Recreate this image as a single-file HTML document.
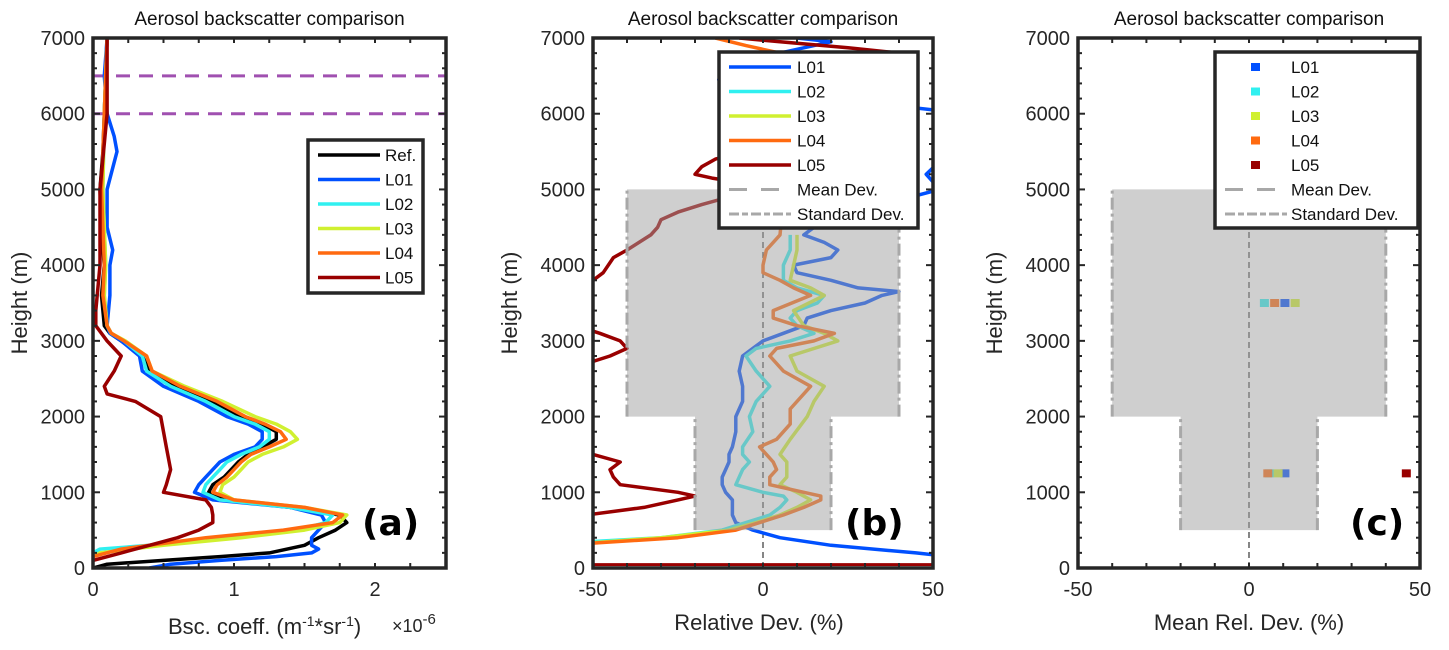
<!DOCTYPE html>
<html><head><meta charset="utf-8"><style>
body{margin:0;background:#fff}
svg{display:block;font-family:"Liberation Sans",sans-serif}
</style></head><body>
<svg id="s" width="1449" height="650" viewBox="0 0 1449 650">
<defs>
<clipPath id="ca"><rect x="93" y="38" width="353" height="530"/></clipPath>
<clipPath id="cb"><rect x="593" y="38" width="340" height="530"/></clipPath>
<clipPath id="cc"><rect x="1078" y="38" width="342" height="530"/></clipPath>
</defs>
</svg>
<script>
// ---- Panel (a) data: backscatter (x1e-6) vs height ----
const refH=[0,50,100,150,200,300,400,500,600,700,800,900,1000,1100,1200,1300,1400,1500,1600,1700,1800,1900,2000,2200,2400,2600,2800,3000,3100,3200,3400,3600,3800,4000,4200,4500,5000,5500,6000,6500,7000];
const refX=[0,0.1,0.5,0.9,1.25,1.5,1.6,1.72,1.8,1.75,1.4,0.95,0.82,0.85,0.93,0.98,1.03,1.1,1.2,1.3,1.3,1.2,1.05,0.85,0.6,0.4,0.35,0.2,0.12,0.08,0.07,0.06,0.07,0.08,0.07,0.06,0.05,0.07,0.08,0.09,0.1];
const l01H=[0,50,100,150,200,250,300,400,500,600,700,800,900,1000,1100,1200,1300,1400,1500,1600,1700,1800,1900,2000,2200,2400,2600,2800,3000,3100,3200,3600,4000,4200,4500,5000,5500,5700,6000,6500,7000];
const l01X=[0.4,0.55,0.9,1.3,1.55,1.6,1.55,1.55,1.6,1.65,1.62,1.4,0.85,0.72,0.75,0.8,0.85,0.9,1.0,1.15,1.2,1.2,1.1,0.95,0.75,0.5,0.35,0.33,0.2,0.12,0.1,0.12,0.12,0.14,0.1,0.1,0.17,0.15,0.1,0.08,0.1];
const l02H=[200,250,300,400,500,600,700,800,900,1000,1100,1200,1300,1400,1500,1600,1700,1800,1900,2000,2200,2400,2600,2800,3000,3100,3200,3600,4000,5000,6000,7000];
const l02X=[0,0.05,0.4,1.0,1.45,1.65,1.7,1.4,0.9,0.78,0.8,0.85,0.9,0.95,1.05,1.18,1.25,1.25,1.15,1.0,0.8,0.55,0.38,0.35,0.22,0.13,0.1,0.08,0.09,0.07,0.08,0.1];
const l03H=[150,200,300,400,500,600,700,800,900,1000,1100,1200,1300,1400,1500,1600,1700,1800,1900,2000,2200,2400,2600,2800,3000,3100,3200,3600,4000,5000,6000,7000];
const l03X=[0,0.05,0.5,1.05,1.5,1.75,1.8,1.5,1.0,0.9,0.92,1.0,1.05,1.1,1.2,1.35,1.45,1.4,1.3,1.15,0.92,0.65,0.42,0.38,0.23,0.13,0.1,0.08,0.09,0.07,0.08,0.1];
const l04H=[150,250,400,500,600,700,800,900,1000,1100,1200,1300,1400,1500,1600,1700,1800,1900,2000,2200,2400,2600,2800,3000,3100,3200,3600,4000,5000,6000,7000];
const l04X=[0,0.2,0.8,1.35,1.7,1.77,1.5,1.0,0.85,0.88,0.95,1.0,1.05,1.12,1.25,1.37,1.33,1.22,1.08,0.88,0.62,0.42,0.38,0.22,0.13,0.1,0.07,0.08,0.06,0.08,0.1];
const l05H=[100,200,300,400,500,600,700,800,900,1000,1100,1300,1600,1800,2000,2200,2300,2400,2600,2800,3000,3200,3400,4000,5000,6000,7000];
const l05X=[0,0.2,0.4,0.6,0.75,0.85,0.85,0.84,0.8,0.5,0.52,0.55,0.52,0.5,0.48,0.3,0.1,0.08,0.15,0.2,0.1,0.02,0.02,0.05,0.05,0.1,0.1];
const aTicksX=[0,1,2]; const aTickLabelsX=["0","1","2"];
const yTicks=[0,1000,2000,3000,4000,5000,6000,7000];
const overlapH=[6000,6500];
// ---- Panel (b) data: relative deviation (%) ----
const b01H=[150,200,300,400,500,600,700,800,900,1000,1100,1200,1300,1400,1500,1600,1800,2000,2200,2400,2600,2800,2900,3000,3100,3200,3300,3400,3500,3600,3650,3700,3800,3900,4000,4100,4200,4300,4400,4500,4800,5000,5200,5500,5700,6000,6200,6350,6450,6500,6550,6600,6800,6950,7000];
const b01X=[55,45,20,5,-3,-8,-9,-9,-9,-11,-12,-12,-11,-10,-10,-9,-8,-8,-6,-6,-7,-6,-3,0,6,12,13,20,30,35,40,28,20,10,9,20,22,18,12,15,35,52,48,55,52,60,20,-8,-13,-6,-12,-3,5,20,10];
const b02H=[250,350,400,500,600,700,800,900,950,1000,1100,1200,1300,1400,1500,1600,1800,2000,2200,2400,2600,2800,2900,3000,3100,3200,3300,3400,3500,3600,3700,3800,4000,4200,4400];
const b02X=[-60,-50,-30,-12,-5,2,5,7,6,0,-8,-7,-6,-4,-6,-6,-3,-4,-2,2,-2,-5,-2,8,15,10,8,10,16,18,10,6,6,8,8];
const b03H=[300,400,500,600,700,800,900,1000,1100,1200,1300,1400,1500,1700,2000,2200,2400,2600,2800,3000,3100,3200,3400,3600,3700,3800,4000,4200,4400];
const b03X=[-60,-30,-10,-2,5,10,14,10,5,7,7,7,5,8,13,15,18,10,8,22,18,12,9,18,14,8,9,10,10];
const b04H=[300,400,500,600,700,800,900,950,1000,1100,1200,1300,1400,1500,1600,1700,1900,2100,2400,2600,2800,2900,3000,3100,3200,3300,3400,3600,3700,3800,3900,4000,4200,4400,6700,6800,6900,7000];
const b04X=[-60,-25,-8,-1,6,12,17,17,12,2,2,4,3,1,-1,4,8,8,14,6,2,4,15,21,10,3,3,14,9,5,0,0,1,5,10,5,-5,-14];
const b05H=[700,800,900,950,1000,1100,1200,1300,1400,1500,1550,2700,2800,2900,3000,3100,3200,3700,3800,3900,4100,4200,4400,4500,4600,4700,4800,4900,5000,5100,5150,5200,5300,5400,5500,5600,6000,6800,6870,6950,7000];
const b05X=[-52,-35,-25,-20,-25,-42,-44,-45,-42,-50,-55,-52,-45,-40,-42,-48,-55,-55,-50,-47,-44,-40,-33,-31,-30,-25,-18,-10,-5,-8,-15,-20,-18,-14,-5,5,30,40,25,5,-7];
const bTicksX=[-50,0,50]; const bTickLabelsX=["-50","0","50"];
const sdUpperH=[2000,5000], sdUpper=40;
const sdLowerH=[500,2000], sdLower=20;
// ---- Panel (c) data: mean relative deviation (%) ----
const cLayers=[3500,1250];
const c01=[10.5,10.5], c02=[4.5,6], c03=[13.5,8.5], c04=[7.5,5.5], c05=[null,46];

const colors={ref:"#000000",l01:"#0050ff",l02:"#30f0f0",l03:"#d0f030",l04:"#ff6a10",l05:"#990000"};
const NS="http://www.w3.org/2000/svg";
const svg=document.getElementById('s');
function mk(tag,attrs,parent){const e=document.createElementNS(NS,tag);for(const k in attrs)e.setAttribute(k,attrs[k]);(parent||svg).appendChild(e);return e;}
const Y=h=>568-h*530/7000;
const XA=v=>93+v*141, XB=v=>763+v*3.40, XC=v=>1249+v*3.42;

function line(xs,hs,X,col,name,g){let d="";xs.forEach((v,i)=>{d+=(i?"L":"M")+X(v).toFixed(1)+","+Y(hs[i]).toFixed(1)});
 const p=mk('path',{d:d,fill:"none",stroke:col,"stroke-width":3.5,"stroke-linejoin":"round"},g);
 
 }

function axes(x0,x1,X,ticks,labels,minorStep,minorFrom,minorTo,name,ylabX,title){
 const g=mk('g',{});
 
 
 const col="#262626";
 for(let h=0;h<=7000;h+=200){const L=h%1000==0?7:4;
  mk('line',{x1:x0,x2:x0+L,y1:Y(h),y2:Y(h),stroke:col,"stroke-width":2},g);
  mk('line',{x1:x1,x2:x1-L,y1:Y(h),y2:Y(h),stroke:col,"stroke-width":2},g);}
 for(let v=minorFrom;v<=minorTo+1e-9;v+=minorStep){const px=X(v);
  mk('line',{x1:px,x2:px,y1:568,y2:563,stroke:col,"stroke-width":2},g);
  mk('line',{x1:px,x2:px,y1:38,y2:43,stroke:col,"stroke-width":2},g);}
 mk('rect',{x:x0,y:38,width:x1-x0,height:530,fill:"none",stroke:col,"stroke-width":3.5},g);
 yTicks.forEach(h=>{const t=mk('text',{x:x0-8,y:Y(h)+7,"text-anchor":"end","font-size":20,fill:col},g);t.textContent=h;
  
  });
 ticks.forEach((v,i)=>{const t=mk('text',{x:X(v),y:596,"text-anchor":"middle","font-size":20,fill:col},g);t.textContent=labels[i];
  
  });
 const yl=mk('text',{x:0,y:0,transform:`translate(${ylabX},303) rotate(-90)`,"text-anchor":"middle","font-size":22,fill:col},g);yl.textContent="Height (m)";
 
 
 const tt=mk('text',{x:(x0+x1)/2,y:25,"text-anchor":"middle","font-size":19,fill:"#111"},g);tt.textContent=title;
 
 
 return g;}

// ===== Panel a =====
const ga=mk('g',{"clip-path":"url(#ca)"});


overlapH.forEach(h=>{const l=mk('line',{x1:93,x2:446,y1:Y(h),y2:Y(h),stroke:"#a050b0","stroke-width":3,"stroke-dasharray":"14,9"},ga);
 
 });
line(refX,refH,XA,colors.ref,'ref-line',ga);
line(l01X,l01H,XA,colors.l01,'l01-line',ga);
line(l02X,l02H,XA,colors.l02,'l02-line',ga);
line(l03X,l03H,XA,colors.l03,'l03-line',ga);
line(l04X,l04H,XA,colors.l04,'l04-line',ga);
line(l05X,l05H,XA,colors.l05,'l05-line',ga);
axes(93,446,XA,aTicksX,aTickLabelsX,0.25,0,2.5,'panel-a',27,'Aerosol backscatter comparison');

// ===== Panel b =====
const gb=mk('g',{"clip-path":"url(#cb)"});


const zl=mk('line',{x1:XB(0),x2:XB(0),y1:Y(0),y2:Y(5000),stroke:"#444","stroke-width":1.3,"stroke-dasharray":"6,4"},gb);


const bl=mk('line',{x1:593,x2:933,y1:Y(45),y2:Y(45),stroke:colors.l05,"stroke-width":3},gb);


line(b01X,b01H,XB,colors.l01,'l01-dev-line',gb);
line(b02X,b02H,XB,colors.l02,'l02-dev-line',gb);
line(b03X,b03H,XB,colors.l03,'l03-dev-line',gb);
line(b04X,b04H,XB,colors.l04,'l04-dev-line',gb);
line(b05X,b05H,XB,colors.l05,'l05-dev-line',gb);

function sdBand(X,g){
 const p=`M${X(-sdUpper)},${Y(sdUpperH[1])}H${X(sdUpper)}V${Y(sdUpperH[0])}H${X(sdLower)}V${Y(sdLowerH[0])}H${X(-sdLower)}V${Y(sdLowerH[1])}H${X(-sdUpper)}Z`;
 const b=mk('path',{d:p,fill:"#a0a0a0","fill-opacity":0.5},g);
 
 
 [[-sdUpper,sdUpperH],[sdUpper,sdUpperH],[-sdLower,sdLowerH],[sdLower,sdLowerH]].forEach(([v,hh])=>{
  const e=mk('line',{x1:X(v),x2:X(v),y1:Y(hh[0]),y2:Y(hh[1]),stroke:"#a8a8a8","stroke-width":3,"stroke-dasharray":"12,4,3,4"},g);
  
  });}
sdBand(XB,gb);
axes(593,933,XB,bTicksX,bTickLabelsX,10,-50,50,'panel-b',517,'Aerosol backscatter comparison');

// ===== Panel c =====
const gc=mk('g',{"clip-path":"url(#cc)"});


const zl2=mk('line',{x1:XC(0),x2:XC(0),y1:Y(0),y2:Y(5000),stroke:"#444","stroke-width":1.3,"stroke-dasharray":"6,4"},gc);


[[c01,colors.l01,'l01'],[c02,colors.l02,'l02'],[c03,colors.l03,'l03'],[c04,colors.l04,'l04'],[c05,colors.l05,'l05']].forEach(([arr,col,n])=>{
 arr.forEach((v,i)=>{if(v===null)return;
  const r=mk('rect',{x:XC(v)-4.5,y:Y(cLayers[i])-4,width:9,height:8,fill:col},gc);
  
  });});
sdBand(XC,gc);
axes(1078,1420,XC,bTicksX,bTickLabelsX,10,-50,50,'panel-c',1002,'Aerosol backscatter comparison');

function txt(x,y,s,size,name,extra){const t=mk('text',Object.assign({x:x,y:y,"font-size":size,fill:"#262626"},extra||{}));t.innerHTML=s;
 
 return t;}
txt(168,634,'Bsc. coeff. (m<tspan dy="-8" font-size="14">-1</tspan><tspan dy="8">*sr</tspan><tspan dy="-8" font-size="14">-1</tspan><tspan dy="8">)</tspan>',22,'x-axis-title');
txt(392,632,'×10<tspan dy="-8" font-size="15">-6</tspan>',18,'x-axis-exponent');
txt(759,630,'Relative Dev. (%)',22,'x-axis-title',{"text-anchor":"middle"});
txt(1249,630,'Mean Rel. Dev. (%)',22,'x-axis-title',{"text-anchor":"middle"});
txt(362,535,'(a)',36,'panel-label-a',{"font-weight":"bold","fill":"#000","font-family":"DejaVu Sans"});
txt(845,535,'(b)',36,'panel-label-b',{"font-weight":"bold","fill":"#000","font-family":"DejaVu Sans"});
txt(1350,535,'(c)',36,'panel-label-c',{"font-weight":"bold","fill":"#000","font-family":"DejaVu Sans"});

function legend(x,y,w,h,items,name){
 const g=mk('g',{});
 
 
 mk('rect',{x:x,y:y,width:w,height:h,fill:"#fff",stroke:"#262626","stroke-width":3.5},g);
 items.forEach((it,i)=>{const cy=y+15+i*24.5;
  if(it.type==='line')mk('line',{x1:x+10,x2:x+72,y1:cy,y2:cy,stroke:it.col,"stroke-width":3.5},g);
  else if(it.type==='sq')mk('rect',{x:x+36,y:cy-4,width:9,height:8,fill:it.col},g);
  else mk('line',{x1:x+10,x2:x+72,y1:cy,y2:cy,stroke:"#a8a8a8","stroke-width":3,"stroke-dasharray":it.dash},g);
  const t=mk('text',{x:x+it.tx,y:cy+6,"font-size":17,fill:"#111"},g);t.textContent=it.label;
  
  });}
const la=[["Ref.",colors.ref],["L01",colors.l01],["L02",colors.l02],["L03",colors.l03],["L04",colors.l04],["L05",colors.l05]].map(([l,c])=>({type:'line',col:c,label:l,tx:77}));
legend(308,140,115,153,la,'legend-a');
const lb=[["L01",colors.l01],["L02",colors.l02],["L03",colors.l03],["L04",colors.l04],["L05",colors.l05]].map(([l,c])=>({type:'line',col:c,label:l,tx:78}));
lb.push({type:'dash',dash:"18,14",label:"Mean Dev.",tx:78});
lb.push({type:'dash',dash:"10,3,6,3",label:"Standard Dev.",tx:78});
legend(719,52,199,176,lb,'legend-b');
const lc=[["L01",colors.l01],["L02",colors.l02],["L03",colors.l03],["L04",colors.l04],["L05",colors.l05]].map(([l,c])=>({type:'sq',col:c,label:l,tx:76}));
lc.push({type:'dash',dash:"18,14",label:"Mean Dev.",tx:76});
lc.push({type:'dash',dash:"10,3,6,3",label:"Standard Dev.",tx:76});
legend(1215,52,203,176,lc,'legend-c');
</script>
</body></html>
